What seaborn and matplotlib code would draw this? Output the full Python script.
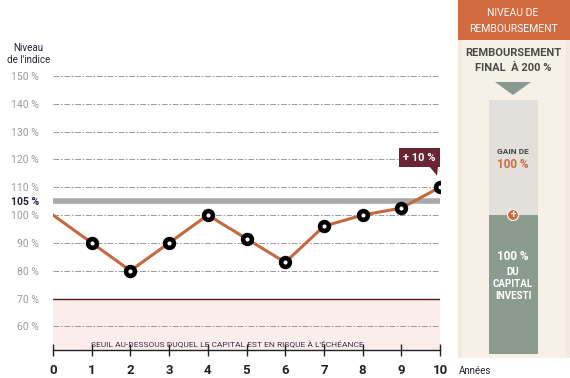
import matplotlib
matplotlib.use("Agg")
import matplotlib.pyplot as plt
import seaborn as sns
import pandas as pd
from matplotlib.patches import Rectangle, Polygon, Circle

sns.set_theme(style="white")
plt.rcParams['font.family'] = ['Roboto', 'DejaVu Sans']

years = [0, 1, 2, 3, 4, 5, 6, 7, 8, 9, 10]
index_level = [100, 90, 80, 90, 100, 91.5, 83, 96, 100, 102.5, 110]
ytick_vals = [60, 70, 80, 90, 100, 105, 110, 120, 130, 140, 150]
ytick_labels = ["60 %", "70 %", "80 %", "90 %", "100 %", "105 %", "110 %", "120 %", "130 %", "140 %", "150 %"]
grid_vals = [60, 80, 90, 100, 110, 120, 130, 140, 150]
barrier = 70
coupon_level = 105

df = pd.DataFrame({"year": years, "level": index_level})

fig = plt.figure(figsize=(5.7, 3.78), dpi=100)
fig.patch.set_facecolor("white")
ax = fig.add_axes([0.093, 0.074, 0.679, 0.762])
ax.set_xlim(0, 10)
ax.set_ylim(51.5, 155)

# risk zone
ax.axhspan(51.5, barrier, color="#FBEDEC", zorder=0)
ax.axhline(barrier, color="#5A1A1E", lw=1.0, zorder=1)
for g in grid_vals:
    ax.axhline(g, color="#8A8A8A", lw=0.6, ls=(0, (7, 2, 2, 2)), zorder=1)
ax.axhline(coupon_level, color="#A8A8A8", lw=4, zorder=1)

sns.lineplot(data=df, x="year", y="level", ax=ax, color="#C4693F", lw=2.2, zorder=3)
sns.scatterplot(data=df[df["year"] > 0], x="year", y="level", ax=ax, s=40,
                facecolor="white", edgecolor="black", linewidth=3.3, zorder=4)

ax.set_xlabel("")
ax.set_ylabel("")
ax.set_xticks(years)
ax.set_xticklabels([str(y) for y in years], fontweight="bold", fontsize=9.5, color="#222222")
ax.set_yticks(ytick_vals)
ax.set_yticklabels(ytick_labels, fontsize=7.5, color="#9A9A9A")
for lbl, v in zip(ax.get_yticklabels(), ytick_vals):
    if v == coupon_level:
        lbl.set_color("#222233")
        lbl.set_fontweight("bold")
ax.tick_params(axis="y", length=0, pad=10)
ax.tick_params(axis="x", direction="inout", length=8, width=1, color="#222222", pad=6, bottom=True)
for s in ["top", "right", "left"]:
    ax.spines[s].set_visible(False)
ax.spines["bottom"].set_color("#222222")
ax.spines["bottom"].set_linewidth(1)

ax.text(4.5, 53.3, "SEUIL AU-DESSOUS DUQUEL LE CAPITAL EST EN RISQUE À L'ÉCHÉANCE",
        fontsize=6, color="#333344", ha="center", va="center")

# callout
ax.text(9.47, 120.6, "+ 10 %", fontsize=8, fontweight="bold", color="white",
        ha="center", va="center", zorder=6,
        bbox=dict(boxstyle="square,pad=0.4", fc="#6B2434", ec="none"))
ax.add_patch(Polygon([[9.72, 117.5], [9.95, 117.5], [9.92, 114.2]], closed=True,
                     fc="#6B2434", ec="none", zorder=6))

fig.text(0.05, 0.828, "Niveau\nde l'indice", fontsize=7, color="#222233", ha="center", va="bottom",
         linespacing=1.2)

# right panel
W, H = 570, 378
pax = fig.add_axes([0, 0, 1, 1], zorder=5)
pax.set_xlim(0, W)
pax.set_ylim(H, 0)
pax.axis("off")
pax.patch.set_alpha(0)
pax.add_patch(Rectangle((458, 0), 112, 358, fc="#F3EADF", ec="none"))
pax.add_patch(Rectangle((462, 0), 104, 358, fc="#F7F0E7", ec="none"))
pax.add_patch(Rectangle((458, 0), 112, 40, fc="#D2693F", ec="none"))
pax.text(513, 13, "NIVEAU DE", color="white", fontsize=7.5, ha="center", va="center")
pax.text(513, 29, "REMBOURSEMENT", color="white", fontsize=7.5, ha="center", va="center")
pax.text(513, 53, "REMBOURSEMENT", color="#4A4A48", fontsize=8, fontweight="bold", ha="center", va="center")
pax.text(513, 68, "FINAL  À 200 %", color="#4A4A48", fontsize=8, fontweight="bold", ha="center", va="center")
pax.add_patch(Polygon([[495, 82], [531, 82], [513, 95]], closed=True, fc="#889A8E", ec="none"))
pax.add_patch(Rectangle((489, 100), 49, 115, fc="#E3E0DB", ec="none"))
pax.add_patch(Rectangle((489, 215), 49, 139, fc="#8B9C8E", ec="none"))
pax.text(513, 151, "GAIN DE", color="#444444", fontsize=6, fontweight="bold", ha="center", va="center")
pax.text(513, 164, "100 %", color="#D2693F", fontsize=8.5, fontweight="bold", ha="center", va="center")
pax.add_patch(Circle((513, 215), 5.5, fc="#D2693F", ec="white", lw=0.8))
pax.text(513, 215, "+", color="white", fontsize=7, fontweight="bold", ha="center", va="center")
pax.text(513, 256, "100 %", color="white", fontsize=8.5, fontweight="bold", ha="center", va="center")
pax.text(513, 272, "DU", color="white", fontsize=7, fontweight="bold", ha="center", va="center")
pax.text(513, 284, "CAPITAL", color="white", fontsize=7, fontweight="bold", ha="center", va="center")
pax.text(513, 296, "INVESTI", color="white", fontsize=7, fontweight="bold", ha="center", va="center")
pax.text(459, 371, "Années", color="#222233", fontsize=7, ha="left", va="center")

fig.savefig("out.png", dpi=100)
